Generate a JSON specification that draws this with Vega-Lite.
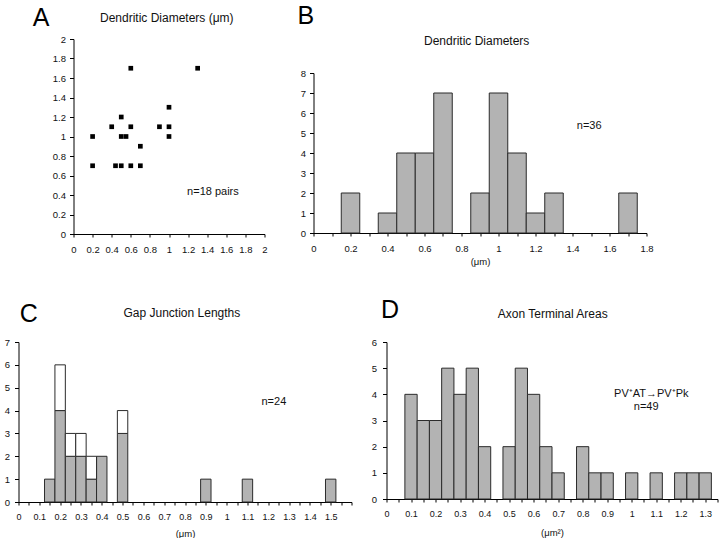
{
  "$schema": "https://vega.github.io/schema/vega-lite/v6.json",
  "padding": {"left": 3.5, "top": 3, "right": 0, "bottom": 0},
  "background": "white",
  "config": {
    "font": "Liberation Sans",
    "view": {"stroke": null},
    "axis": {"grid": false, "domainColor": "#000", "tickColor": "#000", "labelColor": "#111", "labelFontSize": 9.5, "labelFont": "Liberation Sans", "titleFont": "Liberation Sans", "titleFontSize": 9.5, "titleFontWeight": "normal", "titleColor": "#111", "labelFlush": false, "labelOverlap": false, "domainWidth": 1, "tickWidth": 1, "tickCount": 200},
    "axisX": {"tickSize": 3, "labelPadding": 7},
    "axisY": {"tickSize": 4, "labelPadding": 4},
    "text": {"font": "Liberation Sans", "color": "#111"}
  },
  "datasets": {
    "ptsA": [
      {"x": 0.2, "y": 1.0}, {"x": 0.2, "y": 0.7}, {"x": 0.4, "y": 1.1}, {"x": 0.44, "y": 0.7},
      {"x": 0.5, "y": 1.2}, {"x": 0.5, "y": 1.0}, {"x": 0.5, "y": 0.7}, {"x": 0.55, "y": 1.0},
      {"x": 0.6, "y": 1.7}, {"x": 0.6, "y": 1.1}, {"x": 0.6, "y": 0.7}, {"x": 0.7, "y": 0.9},
      {"x": 0.7, "y": 0.7}, {"x": 0.9, "y": 1.1}, {"x": 1.0, "y": 1.3}, {"x": 1.0, "y": 1.1},
      {"x": 1.0, "y": 1.0}, {"x": 1.3, "y": 1.7}
    ],
    "binsB": [
      {"x0": 0.15, "x1": 0.25, "n": 2}, {"x0": 0.35, "x1": 0.45, "n": 1}, {"x0": 0.45, "x1": 0.55, "n": 4},
      {"x0": 0.55, "x1": 0.65, "n": 4}, {"x0": 0.65, "x1": 0.75, "n": 7}, {"x0": 0.85, "x1": 0.95, "n": 2},
      {"x0": 0.95, "x1": 1.05, "n": 7}, {"x0": 1.05, "x1": 1.15, "n": 4}, {"x0": 1.15, "x1": 1.25, "n": 1},
      {"x0": 1.25, "x1": 1.35, "n": 2}, {"x0": 1.65, "x1": 1.75, "n": 2}
    ],
    "binsC": [
      {"x0": 0.125, "x1": 0.175, "g": 1, "t": 1}, {"x0": 0.175, "x1": 0.225, "g": 4, "t": 6},
      {"x0": 0.225, "x1": 0.275, "g": 2, "t": 3}, {"x0": 0.275, "x1": 0.325, "g": 2, "t": 3},
      {"x0": 0.325, "x1": 0.375, "g": 1, "t": 2}, {"x0": 0.375, "x1": 0.425, "g": 2, "t": 2},
      {"x0": 0.475, "x1": 0.525, "g": 3, "t": 4}, {"x0": 0.875, "x1": 0.925, "g": 1, "t": 1},
      {"x0": 1.075, "x1": 1.125, "g": 1, "t": 1}, {"x0": 1.475, "x1": 1.525, "g": 1, "t": 1}
    ],
    "binsD": [
      {"x0": 0.075, "x1": 0.125, "n": 4}, {"x0": 0.125, "x1": 0.175, "n": 3}, {"x0": 0.175, "x1": 0.225, "n": 3},
      {"x0": 0.225, "x1": 0.275, "n": 5}, {"x0": 0.275, "x1": 0.325, "n": 4}, {"x0": 0.325, "x1": 0.375, "n": 5},
      {"x0": 0.375, "x1": 0.425, "n": 2}, {"x0": 0.475, "x1": 0.525, "n": 2}, {"x0": 0.525, "x1": 0.575, "n": 5},
      {"x0": 0.575, "x1": 0.625, "n": 4}, {"x0": 0.625, "x1": 0.675, "n": 2}, {"x0": 0.675, "x1": 0.725, "n": 1},
      {"x0": 0.775, "x1": 0.825, "n": 2}, {"x0": 0.825, "x1": 0.875, "n": 1}, {"x0": 0.875, "x1": 0.925, "n": 1},
      {"x0": 0.975, "x1": 1.025, "n": 1}, {"x0": 1.075, "x1": 1.125, "n": 1}, {"x0": 1.175, "x1": 1.225, "n": 1},
      {"x0": 1.225, "x1": 1.275, "n": 1}, {"x0": 1.275, "x1": 1.325, "n": 1}
    ]
  },
  "concat": [
    {
      "concat": [
        {"width": 6, "height": 1, "data": {"values": []}, "mark": "point"},
        {
          "width": 191, "height": 195,
          "layer": [
            {
              "data": {"name": "ptsA"},
              "mark": {"type": "square", "size": 22, "color": "#000", "opacity": 1},
              "encoding": {
                "x": {"field": "x", "type": "quantitative", "scale": {"domain": [0, 2], "nice": false, "zero": false}, "axis": {"title": null, "tickCount": 200, "labelOverlap": false, "labelFlush": false, "labelBound": false, "values": [0, 0.2, 0.4, 0.6, 0.8, 1, 1.2, 1.4, 1.6, 1.8, 2], "format": "~g"}},
                "y": {"field": "y", "type": "quantitative", "scale": {"domain": [0, 2], "nice": false, "zero": false}, "axis": {"title": null, "tickCount": 200, "labelOverlap": false, "labelFlush": false, "labelBound": false, "values": [0, 0.2, 0.4, 0.6, 0.8, 1, 1.2, 1.4, 1.6, 1.8, 2], "format": "~g"}}
              }
            },
            {
              "data": {"values": [{}]},
              "mark": {"type": "text", "text": "A", "fontSize": 25, "align": "left", "baseline": "alphabetic", "color": "#000"},
              "encoding": {"x": {"datum": -0.426, "type": "quantitative", "scale": {"domain": [0, 2], "nice": false, "zero": false}}, "y": {"datum": 2.136, "type": "quantitative", "scale": {"domain": [0, 2], "nice": false, "zero": false}}}
            },
            {
              "data": {"values": [{}]},
              "mark": {"type": "text", "text": "Dendritic Diameters (μm)", "fontSize": 12, "align": "center", "baseline": "alphabetic"},
              "encoding": {"x": {"datum": 0.977, "type": "quantitative", "scale": {"domain": [0, 2], "nice": false, "zero": false}}, "y": {"datum": 2.174, "type": "quantitative", "scale": {"domain": [0, 2], "nice": false, "zero": false}}}
            },
            {
              "data": {"values": [{}]},
              "mark": {"type": "text", "text": "n=18 pairs", "fontSize": 11, "align": "center", "baseline": "alphabetic"},
              "encoding": {"x": {"datum": 1.46, "type": "quantitative", "scale": {"domain": [0, 2], "nice": false, "zero": false}}, "y": {"datum": 0.40, "type": "quantitative", "scale": {"domain": [0, 2], "nice": false, "zero": false}}}
            }
          ]
        },
        {
          "concat": [
            {"width": 1, "height": 1, "data": {"values": []}, "mark": "point"},
            {
              "width": 333, "height": 160,
              "layer": [
                {
                  "data": {"name": "binsB"},
                  "mark": {"type": "rect", "fill": "#b3b3b3", "stroke": "#2b2b2b", "strokeWidth": 1},
                  "encoding": {
                    "x": {"field": "x0", "type": "quantitative", "scale": {"domain": [0, 1.8], "nice": false, "zero": false}, "axis": {"title": "(μm)", "titlePadding": 4, "tickCount": 200, "labelOverlap": false, "labelFlush": false, "labelBound": false, "values": [0, 0.1, 0.2, 0.3, 0.4, 0.5, 0.6, 0.7, 0.8, 0.9, 1, 1.1, 1.2, 1.3, 1.4, 1.5, 1.6, 1.7, 1.8], "labelExpr": "abs(datum.value*5 - round(datum.value*5)) < 0.001 ? format(datum.value, '~g') : ''"}},
                    "x2": {"field": "x1"},
                    "y": {"field": "n", "type": "quantitative", "scale": {"domain": [0, 8], "nice": false, "zero": false}, "axis": {"title": null, "format": "~g", "tickCount": 200, "labelOverlap": false, "labelFlush": false, "labelBound": false, "values": [0, 1, 2, 3, 4, 5, 6, 7, 8]}},
                    "y2": {"datum": 0}
                  }
                },
                {
                  "data": {"values": [{}]},
                  "mark": {"type": "text", "text": "B", "fontSize": 25, "align": "left", "baseline": "alphabetic", "color": "#000"},
                  "encoding": {"x": {"datum": -0.087, "type": "quantitative", "scale": {"domain": [0, 1.8], "nice": false, "zero": false}}, "y": {"datum": 10.46, "type": "quantitative", "scale": {"domain": [0, 8], "nice": false, "zero": false}}}
                },
                {
                  "data": {"values": [{}]},
                  "mark": {"type": "text", "text": "Dendritic Diameters", "fontSize": 12, "align": "center", "baseline": "alphabetic"},
                  "encoding": {"x": {"datum": 0.882, "type": "quantitative", "scale": {"domain": [0, 1.8], "nice": false, "zero": false}}, "y": {"datum": 9.4, "type": "quantitative", "scale": {"domain": [0, 8], "nice": false, "zero": false}}}
                },
                {
                  "data": {"values": [{}]},
                  "mark": {"type": "text", "text": "n=36", "fontSize": 11, "align": "center", "baseline": "alphabetic"},
                  "encoding": {"x": {"datum": 1.49, "type": "quantitative", "scale": {"domain": [0, 1.8], "nice": false, "zero": false}}, "y": {"datum": 5.2, "type": "quantitative", "scale": {"domain": [0, 8], "nice": false, "zero": false}}}
                }
              ]
            }
          ],
          "columns": 1, "align": "each", "bounds": "flush", "spacing": 33
        }
      ],
      "columns": 3, "align": "each", "bounds": "flush", "spacing": 49
    },
    {
      "concat": [
        {
          "width": 333, "height": 160,
          "layer": [
            {
              "data": {"name": "binsC"},
              "mark": {"type": "rect", "fill": "#b3b3b3", "stroke": "#2b2b2b", "strokeWidth": 1},
              "encoding": {
                "x": {"field": "x0", "type": "quantitative", "scale": {"domain": [0, 1.6], "nice": false, "zero": false}, "axis": {"title": "(μm)", "titlePadding": 7, "labelFontSize": 9, "labelPadding": 7, "tickCount": 200, "labelOverlap": false, "labelFlush": false, "labelBound": false, "values": [0, 0.05, 0.1, 0.15, 0.2, 0.25, 0.3, 0.35, 0.4, 0.45, 0.5, 0.55, 0.6, 0.65, 0.7, 0.75, 0.8, 0.85, 0.9, 0.95, 1, 1.05, 1.1, 1.15, 1.2, 1.25, 1.3, 1.35, 1.4, 1.45, 1.5, 1.55, 1.6], "labelExpr": "datum.value < 1.55 && abs(datum.value*10 - round(datum.value*10)) < 0.001 ? format(datum.value, '~g') : ''"}},
                "x2": {"field": "x1"},
                "y": {"field": "g", "type": "quantitative", "scale": {"domain": [0, 7], "nice": false, "zero": false}, "axis": {"title": null, "format": "~g", "labelPadding": 5, "tickCount": 200, "labelOverlap": false, "labelFlush": false, "labelBound": false, "values": [0, 1, 2, 3, 4, 5, 6, 7]}},
                "y2": {"datum": 0}
              }
            },
            {
              "data": {"name": "binsC"},
              "transform": [{"filter": "datum.t > datum.g"}],
              "mark": {"type": "rect", "fill": "#ffffff", "stroke": "#2b2b2b", "strokeWidth": 1},
              "encoding": {
                "x": {"field": "x0", "type": "quantitative", "scale": {"domain": [0, 1.6], "nice": false, "zero": false}},
                "x2": {"field": "x1"},
                "y": {"field": "t", "type": "quantitative", "scale": {"domain": [0, 7], "nice": false, "zero": false}},
                "y2": {"field": "g"}
              }
            },
            {
              "data": {"values": [{}]},
              "mark": {"type": "text", "text": "C", "fontSize": 25, "align": "left", "baseline": "alphabetic", "color": "#000"},
              "encoding": {"x": {"datum": 0.006, "type": "quantitative", "scale": {"domain": [0, 1.6], "nice": false, "zero": false}}, "y": {"datum": 7.86, "type": "quantitative", "scale": {"domain": [0, 7], "nice": false, "zero": false}}}
            },
            {
              "data": {"values": [{}]},
              "mark": {"type": "text", "text": "Gap Junction Lengths", "fontSize": 12, "align": "center", "baseline": "alphabetic"},
              "encoding": {"x": {"datum": 0.785, "type": "quantitative", "scale": {"domain": [0, 1.6], "nice": false, "zero": false}}, "y": {"datum": 8.08, "type": "quantitative", "scale": {"domain": [0, 7], "nice": false, "zero": false}}}
            },
            {
              "data": {"values": [{}]},
              "mark": {"type": "text", "text": "n=24", "fontSize": 11, "align": "center", "baseline": "alphabetic"},
              "encoding": {"x": {"datum": 1.227, "type": "quantitative", "scale": {"domain": [0, 1.6], "nice": false, "zero": false}}, "y": {"datum": 4.23, "type": "quantitative", "scale": {"domain": [0, 7], "nice": false, "zero": false}}}
            }
          ]
        },
        {
          "width": 331, "height": 157,
          "layer": [
            {
              "data": {"name": "binsD"},
              "mark": {"type": "rect", "fill": "#b3b3b3", "stroke": "#2b2b2b", "strokeWidth": 1},
              "encoding": {
                "x": {"field": "x0", "type": "quantitative", "scale": {"domain": [0, 1.35], "nice": false, "zero": false}, "axis": {"title": "(μm²)", "titlePadding": 9, "labelFontSize": 9, "labelPadding": 7, "tickCount": 200, "labelOverlap": false, "labelFlush": false, "labelBound": false, "values": [0, 0.05, 0.1, 0.15, 0.2, 0.25, 0.3, 0.35, 0.4, 0.45, 0.5, 0.55, 0.6, 0.65, 0.7, 0.75, 0.8, 0.85, 0.9, 0.95, 1, 1.05, 1.1, 1.15, 1.2, 1.25, 1.3, 1.35], "labelExpr": "datum.value < 1.32 && abs(datum.value*10 - round(datum.value*10)) < 0.001 ? format(datum.value, '~g') : ''"}},
                "x2": {"field": "x1"},
                "y": {"field": "n", "type": "quantitative", "scale": {"domain": [0, 6], "nice": false, "zero": false}, "axis": {"title": null, "format": "~g", "labelPadding": 6, "tickCount": 200, "labelOverlap": false, "labelFlush": false, "labelBound": false, "values": [0, 1, 2, 3, 4, 5, 6]}},
                "y2": {"datum": 0}
              }
            },
            {
              "data": {"values": [{}]},
              "mark": {"type": "text", "text": "D", "fontSize": 25, "align": "left", "baseline": "alphabetic", "color": "#000"},
              "encoding": {"x": {"datum": -0.022, "type": "quantitative", "scale": {"domain": [0, 1.35], "nice": false, "zero": false}}, "y": {"datum": 6.9, "type": "quantitative", "scale": {"domain": [0, 6], "nice": false, "zero": false}}}
            },
            {
              "data": {"values": [{}]},
              "mark": {"type": "text", "text": "Axon Terminal Areas", "fontSize": 12, "align": "center", "baseline": "alphabetic"},
              "encoding": {"x": {"datum": 0.678, "type": "quantitative", "scale": {"domain": [0, 1.35], "nice": false, "zero": false}}, "y": {"datum": 6.9, "type": "quantitative", "scale": {"domain": [0, 6], "nice": false, "zero": false}}}
            },
            {
              "data": {"values": [{}]},
              "mark": {"type": "text", "text": "PV⁺AT→PV⁺Pk", "fontSize": 11, "align": "center", "baseline": "alphabetic"},
              "encoding": {"x": {"datum": 1.08, "type": "quantitative", "scale": {"domain": [0, 1.35], "nice": false, "zero": false}}, "y": {"datum": 3.89, "type": "quantitative", "scale": {"domain": [0, 6], "nice": false, "zero": false}}}
            },
            {
              "data": {"values": [{}]},
              "mark": {"type": "text", "text": "n=49", "fontSize": 11, "align": "center", "baseline": "alphabetic"},
              "encoding": {"x": {"datum": 1.059, "type": "quantitative", "scale": {"domain": [0, 1.35], "nice": false, "zero": false}}, "y": {"datum": 3.41, "type": "quantitative", "scale": {"domain": [0, 6], "nice": false, "zero": false}}}
            }
          ]
        }
      ],
      "columns": 2, "align": "each", "bounds": "flush", "spacing": 35
    }
  ],
  "columns": 1, "align": "each", "bounds": "full", "spacing": 32
}
